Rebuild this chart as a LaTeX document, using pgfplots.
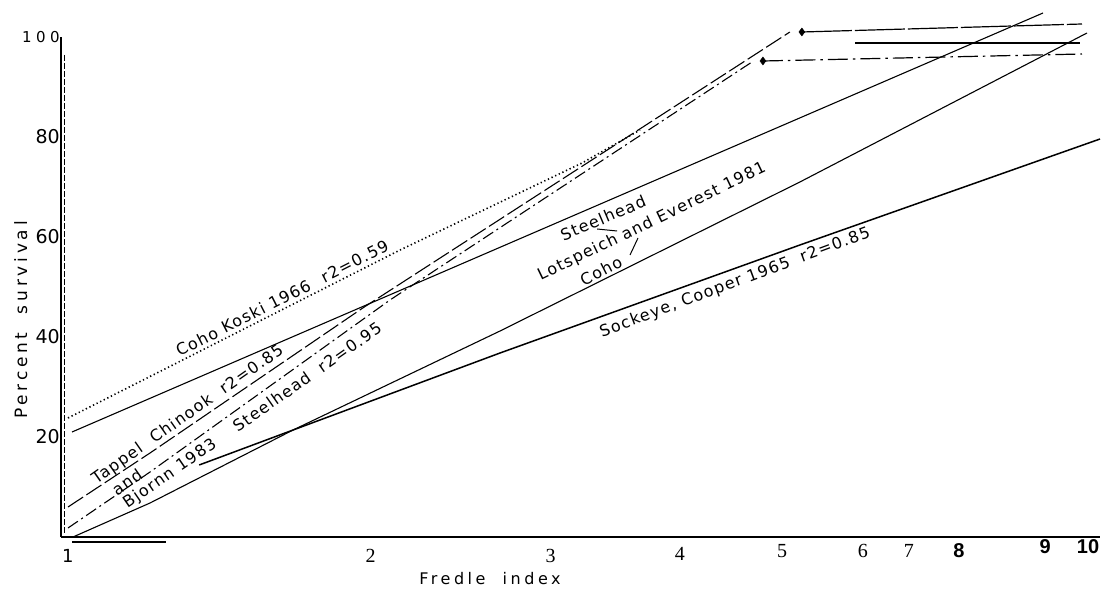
\documentclass[border=0pt]{standalone}
\usepackage{pgfplots}
\pgfplotsset{compat=1.18}
\usepackage{fontspec}
\setmainfont{DejaVu Sans}
\newfontfamily\labfont{DejaVu Sans}[LetterSpace=8]
\newfontfamily\axfont{DejaVu Sans}[LetterSpace=22]
\newfontfamily\widefont{DejaVu Sans}[LetterSpace=30]
\newfontfamily\serfont{Liberation Serif}
\newfontfamily\bsfont{Liberation Sans}
\newcommand{\lf}{\labfont\fontsize{16bp}{18bp}\selectfont}
\newcommand{\sd}[1]{{\serfont\fontsize{20bp}{20bp}\selectfont #1}}
\newcommand{\bd}[1]{{\bsfont\bfseries\fontsize{20bp}{20bp}\selectfont #1}}
\newcommand{\yd}[1]{{\fontsize{19bp}{19bp}\selectfont #1}}
\begin{document}
\begin{tikzpicture}
\path[use as bounding box] (0,0) rectangle (1103bp,590bp);
\begin{axis}[
  at={(61bp,53bp)}, anchor=south west,
  scale only axis, width=1039bp, height=500bp,
  xmode=log, xmin=0.9955, xmax=10.344, ymin=0, ymax=100,
  axis x line*=bottom, axis y line*=left,
  axis line style={line width=1.5bp},
  tick style={draw=none}, minor xtick={},
  xtick={1.011,2,3,4.015,5.053,6.064,6.725,7.526,9.14,10.07},
  xticklabels={{\fontsize{18bp}{18bp}\selectfont 1},\sd{2},\sd{3},\raisebox{2bp}{\sd{4}},\raisebox{5bp}{\sd{5}},\raisebox{5bp}{\sd{6}},\raisebox{5bp}{\sd{7}},\raisebox{5bp}{\bd{8}},\raisebox{9bp}{\bd{9}},\raisebox{9bp}{\bd{10}}},
  xticklabel style={anchor=base, inner sep=0pt, yshift=-25bp},
  ytick={20,40,60,80,100},
  yticklabels={\yd{20},\yd{40},\yd{60},\yd{80},{\widefont\fontsize{15bp}{15bp}\selectfont 100}},
  yticklabel style={anchor=east, inner sep=1bp},
  clip=false,
  xlabel={{\axfont\fontsize{16bp}{18bp}\selectfont Fredle\ \ index}},
  xlabel style={at={(rel axis cs:0.4129,-0.096)}, anchor=base},
  ylabel={{\axfont\fontsize{17bp}{19bp}\selectfont Percent\ \ survival}},
  ylabel style={at={(rel axis cs:-0.0327,0.434)}, anchor=base},
]
% Coho, Koski 1966 (dotted)
\addplot[line width=1.6bp, dash pattern=on 1.3bp off 2.7bp] coordinates {
  (1.0113,23.8) (2.1372,57.4) (3.2203,74.8) (3.6696,81.4)};
% Steelhead, Lotspeich and Everest 1981
\addplot[line width=1.1bp] coordinates {(1.0205,21.0) (9.0974,104.8)};
% Coho, Lotspeich and Everest 1981
\addplot[line width=1.1bp] coordinates {
  (1.0228,0) (1.2166,6.8) (1.6794,21.4) (2.6769,41.2) (5.2605,71.0) (10.045,100.8)};
% Sockeye, Cooper 1965
\addplot[line width=1.5bp] coordinates {
  (1.3591,14.4) (1.6794,21.4) (2.6769,36.8) (5.2605,58.4) (10.344,79.6)};
% Tappel and Bjornn 1983, Chinook (long dash)
\addplot[line width=1.1bp, dash pattern=on 18bp off 4bp] coordinates {
  (1.0113,6.0) (1.2166,16.8) (1.9652,45.8) (5.1434,101.0)};
\addplot[line width=1.2bp, dash pattern=on 50bp off 3bp] coordinates {
  (5.2841,101.0) (9.9325,102.6)};
% Tappel and Bjornn 1983, Steelhead (dash dot)
\addplot[line width=1.1bp, dash pattern=on 12bp off 4bp on 2bp off 4bp] coordinates {
  (1.0113,1.8) (1.2166,13.0) (2.0890,47.4) (4.7220,95.0)};
\addplot[line width=1.2bp, dash pattern=on 20bp off 5bp on 2.5bp off 5bp] coordinates {
  (4.8403,95.2) (9.9325,96.6)};
% end markers
\addplot[only marks, mark=diamond*, mark size=4bp] coordinates {(5.2841,101.0) (4.8403,95.2)};
% solid horizontal at top right
\addplot[line width=1.2bp] coordinates {(5.9564,98.8) (9.8880,98.8)};
% dashed vertical near axis and stray stroke below axis
\addplot[line width=0.8bp, dash pattern=on 6bp off 2bp] coordinates {(1.00225,96.4) (1.00225,0.8)};
\addplot[line width=1.1bp] coordinates {(1.0205,-1.0) (1.2614,-1.0)};
% pointer strokes
\addplot[line width=1bp] coordinates {(3.3311,61.6) (3.4847,61.2)};
\addplot[line width=1bp] coordinates {(3.5878,56.4) (3.6531,59.8)};
% labels
\node[rotate=27, font=\lf] at (axis cs:1.6384,47.8) {Coho Koski 1966\hspace{14bp}r2=0.59};
\node[rotate=35, font=\lf] at (axis cs:1.3254,24.4) {Tappel\ \ Chinook\ \ r2=0.85};
\node[rotate=35, font=\lf] at (axis cs:1.1551,11.0) {and};
\node[rotate=34.5, font=\lf] at (axis cs:1.2727,12.6) {Bjornn 1983};
\node[rotate=35, font=\lf] at (axis cs:1.7330,32.0) {Steelhead\ \ r2=0.95};
\node[rotate=23, font=\lf] at (axis cs:3.3763,63.8) {Steelhead};
\node[rotate=25.8, font=\lf] at (axis cs:3.7696,63.0) {Lotspeich and Everest 1981};
\node[rotate=27, font=\lf] at (axis cs:3.3606,53.2) {Coho};
\node[rotate=20.4, font=\lf] at (axis cs:4.5459,50.8) {Sockeye, Cooper 1965\hspace{12bp}r2=0.85};
\end{axis}
\end{tikzpicture}
\end{document}
